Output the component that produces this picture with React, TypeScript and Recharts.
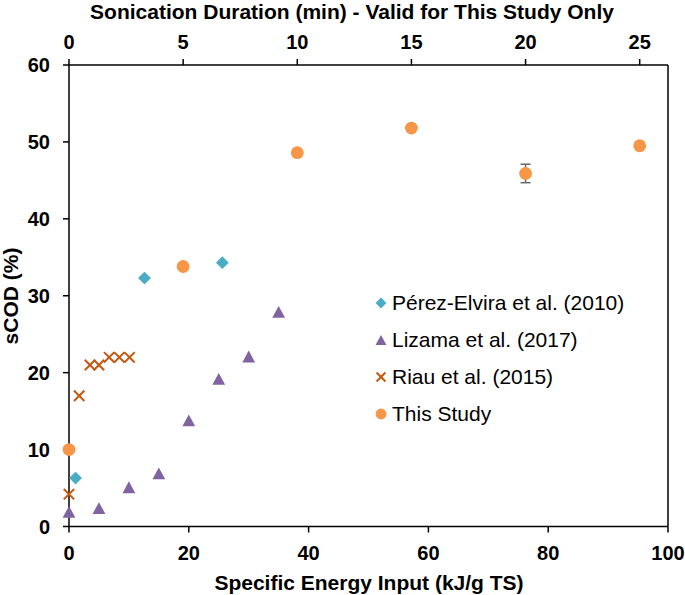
import React from 'react';
import { ScatterChart, Scatter, XAxis, YAxis, ErrorBar, ReferenceLine } from 'recharts';

// ---- data ----
const perezX = [1.1, 12.6, 25.6];
const perezY = [6.3, 32.3, 34.3];
const lizamaX = [0, 5, 10, 15, 20, 25, 30, 35];
const lizamaY = [1.9, 2.4, 5.1, 6.9, 13.8, 19.2, 22.1, 27.9];
const riauX = [0, 1.7, 3.5, 5.0, 6.7, 8.4, 10.1];
const riauY = [4.2, 17.0, 21.0, 21.0, 22.0, 22.0, 22.0];
const studyMin = [0, 5, 10, 15, 20, 25];
const studyY = [10.0, 33.8, 48.6, 51.8, 45.9, 49.5];
const studyErr = [0, 0, 0, 0, 1.2, 0];

const energyTicks = [0, 20, 40, 60, 80, 100];
const minuteTicks = [0, 5, 10, 15, 20, 25];
const scodTicks = [0, 10, 20, 30, 40, 50, 60];
const minuteMax = 26.24; // 100 kJ/g TS expressed in minutes for this study

const seriesNames = ['Pérez-Elvira et al. (2010)', 'Lizama et al. (2017)', 'Riau et al. (2015)', 'This Study'];
const seriesColors = ['#4BACC6', '#8064A2', '#C65911', '#F79646'];
const seriesKinds = ['diamond', 'triangle', 'cross', 'circle'];

const xTitle = 'Specific Energy Input (kJ/g TS)';
const topTitle = 'Sonication Duration (min) - Valid for This Study Only';
const yTitle = 'sCOD (%)';

const zip = (xs: number[], ys: number[], extra?: number[]) =>
  xs.map((x, i) => ({ x, y: ys[i], err: extra ? extra[i] : 0 }));

const perezData = zip(perezX, perezY);
const lizamaData = zip(lizamaX, lizamaY);
const riauData = zip(riauX, riauY);
const studyData = zip(studyMin, studyY, studyErr);

const FONT = '"Liberation Sans", Arial, sans-serif';

function Marker({ kind, color, cx, cy, s = 1 }: { kind: string; color: string; cx: number; cy: number; s?: number }) {
  if (kind === 'diamond') {
    const h = 6.4 * s;
    return <polygon points={`${cx},${cy - h} ${cx + h},${cy} ${cx},${cy + h} ${cx - h},${cy}`} fill={color} />;
  }
  if (kind === 'triangle') {
    const w = 6.4 * s;
    const h = 5.9 * s;
    return <polygon points={`${cx},${cy - h} ${cx + w},${cy + h} ${cx - w},${cy + h}`} fill={color} />;
  }
  if (kind === 'cross') {
    const d = 5.2 * s;
    return (
      <g stroke={color} strokeWidth={2}>
        <line x1={cx - d} y1={cy - d} x2={cx + d} y2={cy + d} />
        <line x1={cx - d} y1={cy + d} x2={cx + d} y2={cy - d} />
      </g>
    );
  }
  return <circle cx={cx} cy={cy} r={6.4 * s} fill={color} />;
}

const shapeFor = (i: number) => (props: any) =>
  <Marker kind={seriesKinds[i]} color={seriesColors[i]} cx={props.cx} cy={props.cy} />;

const tickStyle = { fontSize: 20, fontWeight: 'bold', fill: '#000', fontFamily: FONT };
const axisLine = { stroke: '#000', strokeWidth: 1.5 };
const tickLine = { stroke: '#000', strokeWidth: 1.5 };

const titleStyle: any = { fontSize: 21, fontWeight: 'bold', fill: '#000', fontFamily: FONT };

export default function App() {
  return (
    <div style={{ position: 'absolute', left: 0, top: 0, width: 685, height: 595, background: '#fff' }}>
      <ScatterChart width={685} height={595} margin={{ top: 15, right: 17, bottom: 8.5, left: 9 }}>
        <XAxis
          xAxisId="bottom"
          dataKey="x"
          type="number"
          orientation="bottom"
          domain={[0, 100]}
          ticks={energyTicks}
          interval={0}
          height={60}
          tick={tickStyle}
          tickSize={6}
          tickMargin={13}
          axisLine={axisLine}
          tickLine={tickLine}
          label={{
            content: () => (
              <text x={369} y={590} textAnchor="middle" style={titleStyle}>
                {xTitle}
              </text>
            ),
          }}
        />
        <XAxis
          xAxisId="top"
          dataKey="x"
          type="number"
          orientation="top"
          domain={[0, minuteMax]}
          ticks={minuteTicks}
          interval={0}
          height={50}
          tick={tickStyle}
          tickSize={6}
          tickMargin={10}
          axisLine={axisLine}
          tickLine={tickLine}
          label={{
            content: () => (
              <text x={352} y={18.5} textAnchor="middle" style={titleStyle}>
                {topTitle}
              </text>
            ),
          }}
        />
        <YAxis
          yAxisId="left"
          dataKey="y"
          type="number"
          domain={[0, 60]}
          ticks={scodTicks}
          interval={0}
          width={60}
          tick={tickStyle}
          tickSize={6}
          tickMargin={13}
          axisLine={axisLine}
          tickLine={tickLine}
          label={{
            content: () => (
              <text
                x={0}
                y={0}
                transform="translate(18,296) rotate(-90)"
                textAnchor="middle"
                style={titleStyle}
              >
                {yTitle}
              </text>
            ),
          }}
        />
        <ReferenceLine xAxisId="bottom" yAxisId="left" x={100} stroke="#000" strokeWidth={1.5} />
        <Scatter
          name={seriesNames[0]}
          data={perezData}
          xAxisId="bottom"
          yAxisId="left"
          shape={shapeFor(0)}
          isAnimationActive={false}
        />
        <Scatter
          name={seriesNames[1]}
          data={lizamaData}
          xAxisId="bottom"
          yAxisId="left"
          shape={shapeFor(1)}
          isAnimationActive={false}
        />
        <Scatter
          name={seriesNames[2]}
          data={riauData}
          xAxisId="bottom"
          yAxisId="left"
          shape={shapeFor(2)}
          isAnimationActive={false}
        />
        <Scatter
          name={seriesNames[3]}
          data={studyData}
          xAxisId="top"
          yAxisId="left"
          shape={shapeFor(3)}
          isAnimationActive={false}
        >
          <ErrorBar dataKey="err" direction="y" width={5} stroke="#666" strokeWidth={1.5} isAnimationActive={false} />
        </Scatter>
      </ScatterChart>
      <div style={{ position: 'absolute', left: 372, top: 289, fontFamily: FONT, fontSize: 21, color: '#000' }}>
        {seriesNames.map((n, i) => (
          <div key={n} style={{ position: 'absolute', left: 0, top: i * 37, height: 28, whiteSpace: 'nowrap' }}>
            <svg width={20} height={28} style={{ position: 'absolute', left: 0, top: 0 }}>
              <Marker kind={seriesKinds[i]} color={seriesColors[i]} cx={9} cy={14} s={0.85} />
            </svg>
            <span style={{ position: 'absolute', left: 20, top: 0, lineHeight: '28px' }}>{n}</span>
          </div>
        ))}
      </div>
    </div>
  );
}
